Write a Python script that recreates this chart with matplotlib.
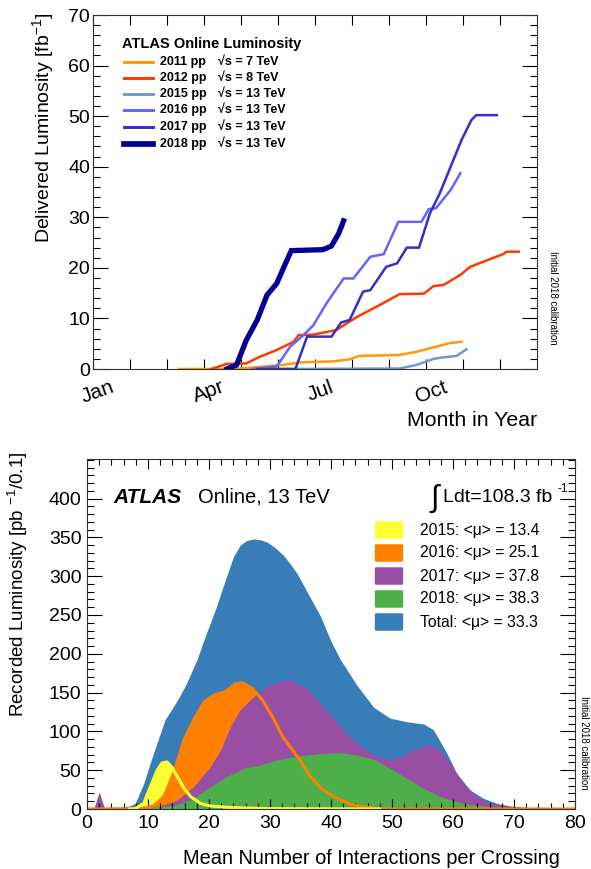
import numpy as np
import matplotlib
matplotlib.use("Agg")
import matplotlib.pyplot as plt
import matplotlib.transforms as mtransforms
from matplotlib.lines import Line2D
from matplotlib.patches import FancyBboxPatch

plt.rcParams['font.family'] = ['Liberation Sans', 'DejaVu Sans']
plt.rcParams['mathtext.fontset'] = 'custom'
plt.rcParams['mathtext.rm'] = 'Liberation Sans'
plt.rcParams['mathtext.it'] = 'Liberation Sans:italic'
plt.rcParams['mathtext.bf'] = 'Liberation Sans:bold'

# ---- top panel: cumulative delivered luminosity vs day of year ----
years = ['2011', '2012', '2015', '2016', '2017', '2018']
energies = ['7', '8', '13', '13', '13', '13']
day_2011 = [71, 115, 129, 156, 170, 197, 211, 219, 241, 252, 266, 280, 293, 303]
lumi_2011 = [0, 0, 0.25, 0.8, 1.3, 1.5, 1.9, 2.6, 2.7, 2.8, 3.4, 4.3, 5.1, 5.4]
day_2012 = [97, 110, 126, 137, 151, 165, 169, 181, 200, 217, 233, 252, 272, 280, 288, 302, 310, 324, 337, 340, 350]
lumi_2012 = [0, 1.0, 1.1, 2.4, 3.75, 5.4, 6.7, 6.8, 7.7, 10.3, 12.3, 14.8, 14.9, 16.4, 16.6, 18.6, 20.2, 21.5, 22.7, 23.2, 23.2]
day_2015 = [155, 252, 266, 280, 288, 299, 307]
lumi_2015 = [0, 0.1, 0.8, 2.0, 2.3, 2.6, 3.9]
day_2016 = [131, 151, 162, 173, 181, 192, 206, 214, 228, 239, 251, 270, 276, 282, 294, 302]
lumi_2016 = [0, 0.5, 4.4, 6.7, 8.6, 13.0, 17.9, 17.9, 22.2, 22.7, 29.1, 29.1, 31.6, 31.8, 35.4, 38.7]
day_2017 = [135, 166, 167, 176, 196, 204, 211, 222, 228, 241, 250, 258, 268, 277, 285, 294, 303, 311, 315, 332]
lumi_2017 = [0, 0, 0.4, 6.4, 6.4, 9.2, 9.7, 15.3, 15.6, 20.2, 20.9, 24.0, 24.0, 30.8, 34.7, 40.0, 45.3, 49.2, 50.2, 50.2]
day_2018 = [110, 118, 126, 135, 143, 151, 157, 163, 189, 196, 202, 206]
lumi_2018 = [0, 0.8, 5.7, 9.7, 14.6, 16.9, 20.2, 23.4, 23.6, 24.3, 26.8, 29.3]
month_labels = ['Jan', '', '', 'Apr', '', '', 'Jul', '', '', 'Oct', '', '']

# ---- bottom panel: recorded luminosity vs mean pile-up ----
mu_total = [0, 1.2, 2.0, 2.8, 5, 7, 7.9, 9.3, 10.9, 12.8, 14.8, 16.2, 18.0, 19.5, 21.0, 22.5, 24.0, 25.1, 26.2,
            27.3, 28.4, 29.5, 30.8, 32.2, 33.3, 34.4, 36.0, 38.3, 40.0, 41.5, 44.2, 47.0, 49.7, 52.4, 55.2, 56.8,
            59.0, 60.6, 62.8, 65.0, 67.2, 69.4, 72, 75, 78, 80]
val_total = [1, 2, 22, 2, 2, 4, 7.3, 33, 72, 115, 140, 160, 192, 225, 256, 291, 325, 340, 346,
             348, 347, 344, 337, 327, 316, 304, 281, 248, 216, 193, 160, 131, 117, 112.5, 109.5, 102,
             71.8, 46, 24.5, 13.7, 7.3, 3.9, 2, 1.5, 1, 0]
mu_2015 = [7, 7.9, 9.3, 10.4, 11.5, 12.3, 13.1, 13.9, 14.8, 15.9, 17.0, 18.6, 20.2, 22.9, 25.7, 30, 40, 48]
val_2015 = [0, 0.5, 7.3, 28.8, 50, 59.3, 60.6, 54, 41.7, 26.6, 15.9, 7.3, 3.9, 2.2, 1.3, 0.5, 0.2, 0]
mu_2016 = [0, 9.3, 10.9, 12.6, 14.2, 15.9, 17.5, 19.2, 20.9, 22.6, 24.3, 25.4, 27.1, 28.8, 30.4, 32.1, 33.3,
           34.9, 36.6, 38.7, 41.5, 44.2, 47.5, 50, 80]
val_2016 = [0, 0.5, 3.9, 15.9, 46, 89, 115, 138, 147, 151, 161, 162.8, 155.5, 140, 119, 93, 80,
            63, 41.7, 24.5, 11.6, 3.9, 0.9, 0, 0]
mu_2017 = [0, 1.2, 2.0, 2.8, 4, 8.9, 12.0, 14.8, 17.5, 20.2, 21.9, 23.5, 25.1, 27.3, 29.5, 31.7, 33.3, 36.0,
           38.7, 41.5, 44.2, 47.0, 49.1, 51.3, 53.5, 55.7, 57.3, 59.5, 61.7, 63.9, 66.1, 68.8, 72, 76]
val_2017 = [0, 1, 21, 1, 0, 0.5, 3.9, 11.6, 28.8, 54.5, 76, 106, 127.6, 144.7, 157.6, 165.4, 166.3, 155.5,
            132, 106, 84.6, 69.6, 64, 66.6, 76, 82.5, 80, 58.9, 33, 15.9, 7.3, 3.9, 1.5, 0.5]
mu_2018 = [0, 3.8, 7, 9.3, 10.5, 12.0, 14.8, 17.5, 20.2, 22.9, 25.7, 28.4, 31.1, 33.9, 36.0, 38.7, 41.5, 44.2,
           47.0, 49.7, 52.4, 55.2, 57.9, 60.6, 63.4, 66.1, 68.8, 72, 76]
val_2018 = [0, 1, 1.5, 3.9, 4, 2.6, 5.6, 13.7, 28.8, 41.7, 52.4, 56.7, 63.1, 67.4, 69.6, 71.8, 72.6, 69.6,
            64, 52.4, 39.5, 26.6, 15.9, 9.4, 5.2, 3.0, 1.7, 0.8, 0.3]
legend_mu = ['2015: <\u03bc> = 13.4', '2016: <\u03bc> = 25.1', '2017: <\u03bc> = 37.8',
             '2018: <\u03bc> = 38.3', 'Total: <\u03bc> = 33.3']

W, H = 591, 869
def fx(x): return x / W
def fy(y): return 1 - y / H

fig = plt.figure(figsize=(W / 100, H / 100), dpi=100)

# ================= top panel =================
ax1 = fig.add_axes([fx(93), fy(369), (537 - 93) / W, (369 - 15) / H])
top_colors = ['#ff9a00', '#ff3a00', '#6a9ad0', '#6464ff', '#3030cc', '#000096']
top_widths = [1.8, 1.8, 1.8, 1.8, 1.8, 3.8]
series = [(day_2011, lumi_2011), (day_2012, lumi_2012), (day_2015, lumi_2015),
          (day_2016, lumi_2016), (day_2017, lumi_2017), (day_2018, lumi_2018)]
for (d, l), c, lw in zip(series, top_colors, top_widths):
    ax1.plot(d, l, color=c, lw=lw, solid_joinstyle='miter')
ax1.set_xlim(0, 365)
ax1.set_ylim(0, 70)
ax1.set_xticks(np.arange(12) * 365 / 12)
ax1.set_xticklabels(month_labels, rotation=20, ha='center', fontsize=15)
ax1.set_yticks(np.arange(0, 71, 10))
ax1.set_yticks(np.arange(0, 71, 2), minor=True)
ax1.tick_params(axis='x', which='major', direction='in', length=7, top=True, pad=6, width=0.8)
ax1.tick_params(axis='y', which='major', direction='in', length=10.5, right=True, labelsize=14, pad=2, width=0.8)
ax1.tick_params(axis='y', which='minor', direction='in', length=5, right=True, width=0.8)
shift = mtransforms.ScaledTranslation(5 / 100, 0, fig.dpi_scale_trans)
for lab in ax1.get_xticklabels():
    lab.set_transform(lab.get_transform() + shift)
for s in ax1.spines.values():
    s.set_linewidth(0.8)
    s.set_color('#333333')

fig.text(fx(43), fy(13), 'Delivered Luminosity [fb$^{-1}$]', rotation=90, ha='center', va='top', fontsize=14)
fig.text(fx(537), fy(420), 'Month in Year', ha='right', va='center', fontsize=15.3)
fig.text(fx(553), fy(298), 'Initial 2018 calibration', rotation=-90, ha='center', va='center', fontsize=7)

fig.text(fx(122), fy(44), 'ATLAS Online Luminosity', ha='left', va='center', fontsize=10.5, weight='bold')
leg_y = [62, 78, 94, 110, 127, 144]
for yr, e, c, lw, y in zip(years, energies, top_colors, top_widths, leg_y):
    fig.add_artist(Line2D([fx(124), fx(153)], [fy(y), fy(y)], color=c, lw=lw + 0.3))
    fig.text(fx(160), fy(y), f'{yr} pp', ha='left', va='center', fontsize=9, weight='bold')
    fig.text(fx(218), fy(y), f'\u221as = {e} TeV', ha='left', va='center', fontsize=9, weight='bold')

# ================= bottom panel =================
ax2 = fig.add_axes([fx(87), fy(809), (575 - 87) / W, (809 - 459) / H])
c_total, c15, c16, c17, c18 = '#377eb8', '#ffff33', '#ff7f00', '#984ea3', '#4daf4a'
ax2.fill_between(mu_total, val_total, color=c_total, lw=0)
ax2.fill_between(mu_2015, val_2015, color=c15, lw=0)
ax2.fill_between(mu_2016, val_2016, color=c16, lw=0)
ax2.fill_between(mu_2017, val_2017, color=c17, lw=0)
ax2.fill_between(mu_2018, val_2018, color=c18, lw=0)
ax2.plot(mu_2016, val_2016, color=c16, lw=2.2)
ax2.plot(mu_2015, val_2015, color=c15, lw=2.2)
ax2.set_xlim(0, 80)
ax2.set_ylim(0, 451)
ax2.set_xticks(np.arange(0, 81, 10))
ax2.set_xticks(np.arange(0, 81, 2), minor=True)
ax2.set_yticks(np.arange(0, 401, 50))
ax2.set_yticks(np.arange(0, 451, 10), minor=True)
ax2.tick_params(axis='x', which='major', direction='in', length=7, top=True, labelsize=14, pad=4, width=0.8)
ax2.tick_params(axis='x', which='minor', direction='in', length=4, top=True, width=0.8)
ax2.tick_params(axis='y', which='major', direction='in', length=10.5, right=True, labelsize=14, pad=4, width=0.8)
ax2.tick_params(axis='y', which='minor', direction='in', length=5, right=True, width=0.8)
for s in ax2.spines.values():
    s.set_linewidth(0.8)
    s.set_color('#333333')

fig.text(fx(18), fy(452), 'Recorded Luminosity [pb $^{-1}$/0.1]', rotation=90, ha='center', va='top', fontsize=13.5)
fig.text(fx(560), fy(858), 'Mean Number of Interactions per Crossing', ha='right', va='center', fontsize=14.4)
fig.text(fx(584), fy(743), 'Initial 2018 calibration', rotation=-90, ha='center', va='center', fontsize=7)

fig.text(fx(113), fy(497), 'ATLAS', ha='left', va='center', fontsize=15, weight='bold', style='italic')
fig.text(fx(198), fy(497), 'Online, 13 TeV', ha='left', va='center', fontsize=14.5)
fig.text(fx(430), fy(499), '\u222b', ha='left', va='center', fontsize=22)
fig.text(fx(443), fy(497), 'Ldt=108.3 fb', ha='left', va='center', fontsize=14)
fig.text(fx(558), fy(489), '-1', ha='left', va='center', fontsize=8.5)

box_y = [530, 553, 576, 599, 622]
for lab, c, y in zip(legend_mu, [c15, c16, c17, c18, c_total], box_y):
    fig.add_artist(FancyBboxPatch((fx(376), fy(y + 7)), 26 / W, 14 / H, boxstyle='round,pad=0.002',
                                  transform=fig.transFigure, color=c, lw=0))
    fig.text(fx(420), fy(y), lab, ha='left', va='center', fontsize=11.3)

fig.savefig('out.png', dpi=100)
